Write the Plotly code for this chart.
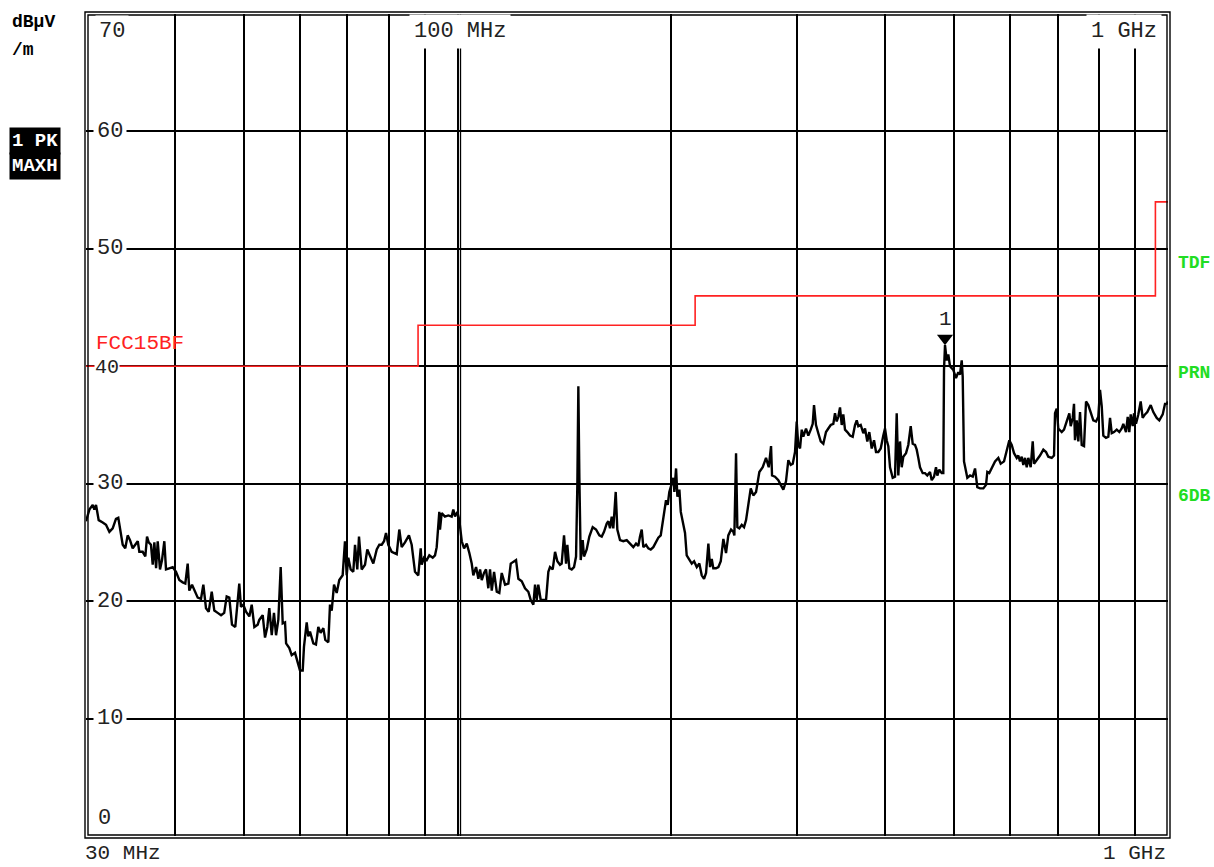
import math
import plotly.graph_objects as go

# Peak / max-hold sweep, 30 MHz .. 1 GHz
freq_mhz = [
    30.0, 30.33, 30.66, 30.82, 30.99, 31.26, 31.67, 32.01, 32.36, 32.71, 33.06, 33.31, 33.79, 34.07,
    34.34, 34.6, 34.9, 35.2, 35.48, 35.66, 36.05, 36.36, 36.56, 36.76, 37.03, 37.24, 37.44, 37.65,
    37.85, 38.13, 38.38, 38.67, 38.88, 39.29, 39.73, 40.16, 40.59, 41.04, 41.39, 41.71, 41.93, 42.3,
    42.62, 43.09, 43.55, 43.88, 44.26, 44.65, 45.09, 45.47, 45.97, 46.47, 46.95, 47.33, 47.73, 48.15,
    48.67, 49.05, 49.3, 49.57, 49.95, 50.39, 50.93, 51.33, 51.77, 52.33, 52.6,
    53.19, 53.59, 53.99, 54.34, 54.77, 55.17, 55.54, 55.95, 56.38, 56.75, 57.18, 57.38, 57.98, 58.43,
    59.06, 59.5, 60.02, 60.55, 60.8, 61.34, 61.66, 62.0, 62.67, 63.21, 63.69, 64.18, 64.74, 65.15,
    65.8, 66.15, 66.52, 67.02, 67.6, 68.17, 68.92, 69.44, 69.83, 70.19, 70.74, 71.34, 71.74, 72.27,
    72.67, 73.3, 74.1, 74.65, 75.48, 76.12, 76.97, 77.62, 78.22, 78.81, 79.32, 79.91, 80.79, 82.12,
    82.81, 83.45, 84.35, 85.44, 86.2, 87.13, 88.07, 88.36, 88.76, 89.05, 89.72, 90.5, 91.27, 92.28,
    92.97, 93.48, 94.27,
    94.48, 95.0, 96.01, 97.06, 98.13, 98.65, 99.2, 99.93, 100.59, 101.39, 102.15, 103.05, 103.91,
    104.71, 105.26, 106.2, 107.0, 107.59, 108.18, 108.98, 109.68, 110.5, 111.12, 111.74, 112.58,
    113.57, 114.51, 115.41, 116.66, 117.92, 118.83, 120.1, 120.89, 121.8, 123.15, 124.46, 125.8,
    126.79, 127.87, 128.57, 129.27, 129.93, 130.96, 132.08, 133.24, 134.23, 134.95, 136.15, 137.18,
    138.21, 139.41, 140.16, 141.23, 142.16, 142.76, 143.68, 144.79, 145.88, 146.84, 147.46, 147.94,
    148.42, 149.08, 150.04, 150.68, 152.0, 153.3, 154.98, 156.67, 158.35, 159.58, 160.77, 162.19,
    163.04, 163.93, 164.83, 165.69, 166.99, 167.86, 169.32,
    171.15, 173.05, 174.9, 176.79, 178.34, 179.67, 180.66, 181.67, 182.62, 184.22, 185.59, 187.05,
    188.63, 190.27, 191.71, 193.21, 194.83, 196.55, 197.64, 198.66, 200.2, 201.3, 201.93, 203.06,
    203.93, 205.26, 206.19, 207.91, 209.04, 210.18, 212.48, 213.66, 215.27, 217.15, 218.96, 220.66,
    222.33, 223.79, 225.47, 226.71, 227.95, 229.11, 231.13, 232.88, 234.71, 236.69, 238.74, 240.52,
    242.66, 244.49, 245.28, 246.63, 247.66, 249.25, 251.21, 253.11, 254.76, 256.66, 258.64, 260.82,
    263.14, 265.97, 268.89, 271.79, 274.2, 276.25, 277.14, 279.81, 282.85, 285.07, 287.47, 289.96,
    292.16, 294.45, 296.37, 298.57, 300.2, 301.73,
    303.46, 305.14, 306.72, 309.39, 311.71, 314.16, 316.2, 317.53, 319.57, 321.98, 324.51, 327.25,
    330.1, 332.59, 335.2, 338.03, 339.86, 341.76, 343.55, 345.45, 347.35, 349.14, 351.07, 353.72,
    356.82, 359.93, 362.65, 364.66, 366.55, 369.39, 372.54, 374.6, 377.4, 379.83, 382.82, 385.69,
    388.19, 391.09, 394.16, 397.48, 399.65, 401.88, 403.98, 406.21, 409.75, 412.84, 415.12, 417.27,
    419.56, 421.89, 424.09, 427.81, 431.0, 434.39, 437.21, 440.46, 442.91, 445.22, 447.67, 451.6,
    454.99, 458.38, 462.41, 464.98, 468.45, 471.49, 473.49, 476.57, 480.27, 482.78, 483.88, 485.45,
    488.12, 490.66, 493.39, 498.68, 503.08, 506.84, 509.62, 512.45, 514.12, 516.29, 520.82,
    521.85, 526.49, 531.12, 535.07, 539.02, 543.79, 549.67, 554.48, 556.8, 560.36, 564.8, 570.9,
    577.0, 581.49, 587.8, 592.96, 597.94, 602.61, 607.15, 612.49, 615.65, 619.01, 622.45, 625.71,
    629.18, 632.65, 635.92, 640.84, 645.06, 647.8, 653.5, 660.46, 667.62, 673.49, 678.48, 686.03,
    691.17, 693.4, 697.21, 700.8, 708.63, 713.92, 720.14, 726.29, 729.6, 734.33, 737.4, 739.76,
    743.9, 747.8, 751.94, 756.08, 761.72, 766.7, 772.43, 778.41, 785.02, 791.93, 797.82, 802.24,
    806.71, 810.92, 818.03, 824.16, 828.73, 833.29, 839.46, 846.88, 854.03, 860.64, 865.16, 872.78,
    877.57, 882.14, 886.18, 891.95, 895.7, 901.5, 908.25, 915.3, 921.2, 928.18, 935.15, 945.53,
    953.52, 964.06, 972.23, 982.99, 990.37, 995.8, 1000.0,
]

level_dbuv = [
    26.8, 27.8, 28.2, 27.8, 28.2, 26.9, 26.7, 26.5, 25.9, 26.2, 27.0, 27.1, 24.8, 24.5,
    25.6, 25.2, 24.5, 24.8, 25.1, 24.2, 24.2, 23.8, 25.5, 25.0, 24.8, 23.1, 25.0, 22.8,
    25.1, 22.7, 23.5, 25.1, 22.7, 22.8, 22.9, 22.5, 21.8, 21.6, 21.5, 23.2, 20.9, 21.4,
    20.9, 20.3, 20.2, 21.4, 19.4, 19.1, 20.8, 19.2, 19.0, 18.8, 19.0, 20.4, 20.3, 18.0,
    17.8, 20.0, 21.5, 19.5, 19.7, 19.1, 18.7, 19.7, 17.8, 18.0, 18.4,
    18.8, 16.9, 17.8, 19.4, 17.1, 19.0, 17.1, 18.4, 22.9, 18.1, 18.2, 16.4, 16.0, 15.4,
    15.6, 14.8, 14.1, 14.1, 16.1, 18.2, 17.0, 17.4, 16.4, 16.3, 17.8, 17.3, 17.7, 16.7,
    16.5, 19.7, 19.2, 21.4, 20.7, 21.8, 22.2, 25.1, 22.2, 23.7, 22.7, 22.5, 24.8, 22.7,
    25.5, 22.7, 23.1, 24.4, 23.8, 23.2, 24.4, 24.8, 24.8, 25.1, 25.8, 24.8, 24.2, 24.0,
    26.1, 24.6, 25.0, 25.6, 24.8, 22.5, 22.2, 23.4, 24.5, 23.1, 23.7, 23.5, 23.9, 23.7,
    23.9, 24.6, 27.6,
    26.1, 27.5, 27.2, 27.3, 27.2, 27.8, 27.2, 27.6, 26.9, 25.1, 24.5, 24.9, 24.1,
    23.2, 22.2, 22.9, 21.9, 22.7, 21.8, 22.4, 22.7, 21.1, 22.7, 20.9, 22.5,
    20.8, 20.7, 22.4, 21.4, 21.5, 23.2, 23.4, 23.5, 21.9, 21.7, 21.1, 20.8,
    20.1, 19.7, 21.4, 20.1, 21.4, 20.1, 20.1, 20.1, 22.5, 22.9, 22.7, 24.2,
    23.4, 23.1, 23.2, 25.6, 23.2, 24.8, 22.8, 22.7, 22.9, 23.8, 29.9, 38.3,
    30.6, 23.5, 25.2, 23.8, 24.4, 25.5, 26.3, 26.1, 25.6, 25.5, 25.9, 26.6,
    26.8, 26.2, 27.2, 26.2, 29.3, 26.1, 25.2,
    25.1, 25.2, 24.9, 24.6, 24.9, 24.7, 25.5, 26.1, 24.6, 24.8, 24.5, 24.4,
    24.6, 25.1, 25.4, 25.6, 27.2, 28.6, 28.2, 29.3, 30.0, 30.5, 29.3, 31.3,
    28.9, 29.5, 27.6, 26.6, 25.8, 23.9, 23.5, 23.2, 23.4, 22.9, 23.2, 22.2,
    21.9, 22.4, 24.9, 22.9, 23.6, 22.8, 22.8, 22.9, 23.4, 25.3, 24.1, 25.6,
    26.1, 25.9, 25.6, 32.6, 26.3, 26.2, 26.5, 26.3, 26.9, 28.3, 29.6, 29.0,
    29.3, 31.0, 31.4, 32.2, 31.4, 33.2, 30.7, 30.6, 30.3, 29.9, 29.5, 30.2,
    32.0, 31.6, 31.7, 32.7, 35.3, 33.3,
    33.0, 34.6, 34.0, 34.7, 34.1, 34.6, 35.1, 36.7, 35.0, 34.3, 33.6, 33.4,
    34.4, 34.7, 35.0, 35.1, 36.0, 35.3, 35.7, 36.5, 35.0, 35.9, 34.6, 34.4,
    34.1, 34.0, 35.0, 35.4, 34.9, 35.0, 34.3, 34.7, 33.6, 34.4, 33.0, 33.7,
    32.7, 32.7, 33.0, 34.1, 34.7, 33.7, 33.2, 31.4, 30.5, 30.6, 36.0, 30.7,
    33.6, 31.4, 32.3, 32.6, 33.3, 34.9, 33.4, 33.3, 32.9, 32.2, 31.4, 30.9,
    30.9, 30.7, 31.0, 30.3, 30.6, 31.4, 30.7, 31.2, 30.9, 30.9, 39.7, 41.8,
    40.5, 41.0, 40.0, 39.7, 39.0, 39.5, 39.3, 40.5, 39.1, 31.9, 30.6,
    30.5, 30.7, 30.6, 31.3, 29.7, 29.6, 29.6, 29.9, 31.0, 30.9, 31.3, 31.9,
    32.2, 31.7, 31.9, 32.9, 33.7, 33.3, 32.6, 32.2, 32.4, 31.9, 32.3, 31.6,
    32.2, 31.4, 32.2, 31.4, 33.6, 31.7, 32.0, 32.4, 32.9, 32.7, 32.3, 32.2,
    32.4, 36.0, 36.4, 34.7, 34.4, 34.6, 35.3, 36.0, 34.9, 35.6, 36.8, 33.7,
    35.4, 33.6, 36.1, 33.3, 33.2, 37.0, 36.7, 36.1, 35.4, 35.3, 35.7, 38.0,
    36.6, 34.1, 33.9, 34.0, 35.6, 34.3, 34.4, 34.6, 34.4, 34.7, 35.1, 34.4,
    35.7, 34.4, 35.9, 34.9, 36.0, 35.1, 35.9, 37.0, 35.6, 35.9, 36.1, 36.7,
    36.1, 35.6, 35.4, 35.9, 36.8, 36.8, 37.0,
]

# FCC 15 class B radiated limit (dBuV/m)
limit_freq_mhz = [30, 88, 216, 960, 1000]
limit_dbuv = [40, 43.5, 46, 54, 54]

grid_freqs_mhz = [40, 50, 60, 70, 80, 90, 100, 200, 300, 400, 500, 600, 700, 800, 900]
level_ticks = [10, 20, 30, 40, 50, 60]
level_tick_labels = ["10", "20", "30", "40", "50", "60"]

# marker 1 sits on the trace maximum
peak_i = max(range(len(level_dbuv)), key=lambda i: level_dbuv[i])
marker_freq = freq_mhz[peak_i]
marker_level = level_dbuv[peak_i]

W, H = 1214, 867
ML, MR, MT, MB = 86, 46, 14, 31
PW, PH = W - ML - MR, H - MT - MB
Y_PX_PER_DB = PH / 70.0


def px(x):
    return (x - ML) / PW


def py(y):
    return (H - MB - y) / PH


MONO = "Liberation Mono, Courier New, monospace"
BLACK = "#000000"
RED = "#ff2222"
GREEN = "#22dd22"

fig = go.Figure()

fig.add_trace(go.Scatter(
    x=limit_freq_mhz, y=limit_dbuv, mode="lines",
    line=dict(color=RED, width=1.6, shape="hv"), hoverinfo="skip",
))
fig.add_trace(go.Scatter(
    x=freq_mhz, y=level_dbuv, mode="lines",
    line=dict(color=BLACK, width=2.4), hoverinfo="skip",
))
fig.add_trace(go.Scatter(
    x=[marker_freq], y=[marker_level + 7.0 / Y_PX_PER_DB], mode="markers",
    marker=dict(symbol="triangle-down", size=14, color=BLACK, line=dict(width=0)),
    hoverinfo="skip",
))

shapes = [
    # second line of the 100 MHz decade marker
    dict(type="line", xref="x", yref="y", x0=100.98, x1=100.98, y0=0, y1=70,
         line=dict(color=BLACK, width=1.3), layer="below"),
    # double frame
    dict(type="rect", xref="paper", yref="paper", x0=px(88), x1=px(1167), y0=py(835), y1=py(15),
         line=dict(color=BLACK, width=1.4), layer="above"),
    dict(type="rect", xref="paper", yref="paper", x0=px(85), x1=px(1170), y0=py(838), y1=py(12),
         line=dict(color=BLACK, width=1.4), layer="above"),
]

annotations = []


def note(text, x, y, size=22, color="#222222", bold=False, xanchor="left", yanchor="middle",
         bg=None, xref="paper", yref="paper", pad=2, yshift=0):
    annotations.append(dict(
        text=f"<b>{text}</b>" if bold else text, x=x, y=y, xref=xref, yref=yref,
        xanchor=xanchor, yanchor=yanchor, showarrow=False, yshift=yshift,
        font=dict(family=MONO, size=size, color=color),
        bgcolor=bg, borderpad=pad,
    ))


# level labels inside the graticule
for v, lab in zip(level_ticks, level_tick_labels):
    if v == 40:
        # the limit-line name sits right above this one
        note(lab, px(94), py(367), bg="white", pad=0, size=20)
    else:
        note(lab, px(93), v, yref="y", bg="white", pad=3)
note("70", px(95), py(31), bg="white", pad=3)
note("0", px(95), py(818), bg="white", pad=2)

# frequency labels
note("100 MHz", px(460), py(31), xanchor="center", bg="white", pad=4)
note("1 GHz", px(1124), py(31), xanchor="center", bg="white", pad=4)
note("30 MHz", px(84), py(866), size=21, yanchor="bottom", pad=0)
note("1 GHz", px(1167), py(866), size=21, xanchor="right", yanchor="bottom", pad=0)

# limit line name
note("FCC15BF", px(95), py(344), size=21, color=RED, pad=0)

# marker number
annotations.append(dict(
    text="1", x=math.log10(marker_freq), y=marker_level, xref="x", yref="y",
    showarrow=False, yshift=26, font=dict(family=MONO, size=21, color="#222222"),
))

# unit and trace info
note("dBµV", px(9), py(22), size=18, color=BLACK, bold=True)
note("/m", px(9), py(50), size=18, color=BLACK, bold=True)
note("1 PK", px(9), py(141), size=19, color="white", bold=True, bg=BLACK, pad=2)
note("MAXH", px(9), py(166), size=19, color="white", bold=True, bg=BLACK, pad=2)

# side labels
note("TDF", px(1175), py(263), size=18, color=GREEN, bold=True)
note("PRN", px(1175), py(373), size=18, color=GREEN, bold=True)
note("6DB", px(1175), py(496), size=18, color=GREEN, bold=True)

fig.update_layout(
    width=W, height=H,
    margin=dict(l=ML, r=MR, t=MT, b=MB, pad=0),
    paper_bgcolor="white", plot_bgcolor="white",
    showlegend=False,
    shapes=shapes, annotations=annotations,
    xaxis=dict(
        type="log", range=[math.log10(30), math.log10(1000)],
        tickvals=grid_freqs_mhz, showticklabels=False, ticks="",
        showgrid=True, gridcolor=BLACK, gridwidth=1.5,
        zeroline=False, showline=False, fixedrange=True,
    ),
    yaxis=dict(
        range=[0, 70], tickvals=level_ticks, showticklabels=False, ticks="",
        showgrid=True, gridcolor=BLACK, gridwidth=1.5,
        zeroline=False, showline=False, fixedrange=True,
    ),
)

fig.write_html("out.html")
